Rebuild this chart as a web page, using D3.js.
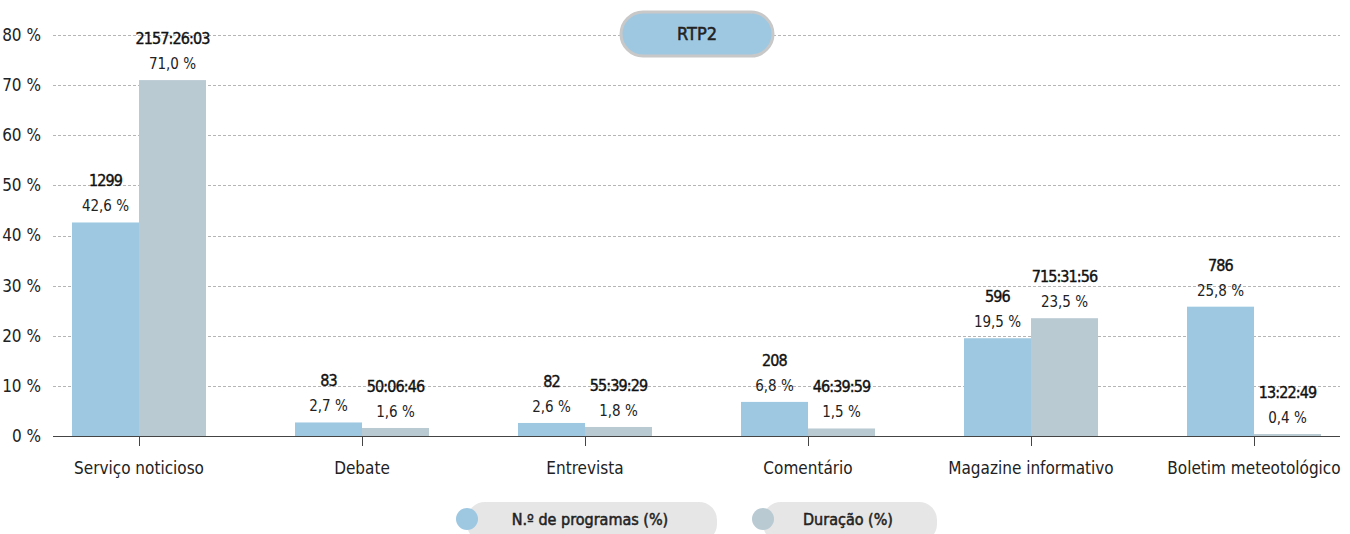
<!DOCTYPE html>
<html>
<head>
<meta charset="utf-8">
<script src="https://cdn.jsdelivr.net/npm/d3@7"></script>
<style>
	body { margin: 0; background: #fff; }
	svg { display: block; font-family: "DejaVu Sans Condensed", "Liberation Sans Narrow", "Roboto", sans-serif; }
</style>
</head>
<body>
<div id="box"></div>
<script>
const categories = ['Serviço noticioso', 'Debate', 'Entrevista', 'Comentário', 'Magazine informativo', 'Boletim meteotológico'];
const seriesNames = ['N.º de programas (%)', 'Duração (%)'];
const progPct = [42.6, 2.7, 2.6, 6.8, 19.5, 25.8];
const progCount = ['1299', '83', '82', '208', '596', '786'];
const durPct = [71.0, 1.6, 1.8, 1.5, 23.5, 0.4];
const durTime = ['2157:26:03', '50:06:46', '55:39:29', '46:39:59', '715:31:56', '13:22:49'];
const yTicks = [0, 10, 20, 30, 40, 50, 60, 70, 80];
const title = 'RTP2';

const colors = ['#9ec8e1', '#b9cad3'];

const width = 1350;
const height = 534;

const marginLeft = 53;
const plotRight = 1340;
const yTop = 35;
const yBottom = 436;

const fmt = v => v.toFixed(1).replace('.', ',') + ' %';

const x0 = d3.scaleBand(categories, [27.5, 1365.5]);
const x1 = d3.scaleBand([0, 1], [44.5, 178.5]);
const y = d3.scaleLinear([0, 80], [yBottom, yTop]);

const svg = d3.select('#box').append('svg')
	.attr('width', width)
	.attr('height', height)
	.attr('viewBox', [0, 0, width, height]);

// grid
svg.append('g')
	.selectAll('line')
	.data(yTicks.filter(t => t > 0))
	.join('line')
	.attr('x1', marginLeft)
	.attr('x2', plotRight)
	.attr('y1', d => Math.round(y(d)) + 0.5)
	.attr('y2', d => Math.round(y(d)) + 0.5)
	.attr('stroke', '#b5b5b5')
	.attr('stroke-dasharray', '3,2');

// y labels
svg.append('g')
	.selectAll('text')
	.data(yTicks)
	.join('text')
	.attr('x', 41)
	.attr('y', d => y(d))
	.attr('dy', '0.35em')
	.attr('text-anchor', 'end')
	.attr('font-size', 17)
	.attr('fill', '#222')
	.text(d => d + ' %');

// bars
const rows = categories.map((c, i) => ({
	cat: c,
	vals: [
		{ k: 0, pct: progPct[i], top: progCount[i] },
		{ k: 1, pct: durPct[i], top: durTime[i] },
	],
}));

const grp = svg.append('g')
	.selectAll('g')
	.data(rows)
	.join('g')
	.attr('transform', d => `translate(${x0(d.cat)},0)`);

grp.selectAll('rect')
	.data(d => d.vals)
	.join('rect')
	.attr('x', d => x1(d.k))
	.attr('width', x1.bandwidth())
	.attr('y', d => y(d.pct))
	.attr('height', d => y(0) - y(d.pct))
	.attr('fill', d => colors[d.k]);

grp.selectAll('text.pct')
	.data(d => d.vals)
	.join('text')
	.attr('class', 'pct')
	.attr('x', d => x1(d.k) + x1.bandwidth() / 2)
	.attr('y', d => y(d.pct) - 11)
	.attr('text-anchor', 'middle')
	.attr('font-size', 15)
	.attr('fill', '#222')
	.text(d => fmt(d.pct));

grp.selectAll('text.top')
	.data(d => d.vals)
	.join('text')
	.attr('class', 'top')
	.attr('x', d => x1(d.k) + x1.bandwidth() / 2)
	.attr('y', d => y(d.pct) - 36)
	.attr('text-anchor', 'middle')
	.attr('font-size', 16)
	.attr('letter-spacing', -0.9)
	.attr('fill', '#111')
	.attr('stroke', '#111')
	.attr('stroke-width', 0.4)
	.text(d => d.top);

// x axis
const axis = svg.append('g').attr('stroke', '#444');
axis.append('line')
	.attr('x1', marginLeft)
	.attr('x2', plotRight)
	.attr('y1', yBottom + 0.5)
	.attr('y2', yBottom + 0.5);
axis.selectAll('line.tick')
	.data(categories)
	.join('line')
	.attr('class', 'tick')
	.attr('x1', d => Math.round(x0(d) + x0.bandwidth() / 2) + 0.5)
	.attr('x2', d => Math.round(x0(d) + x0.bandwidth() / 2) + 0.5)
	.attr('y1', yBottom)
	.attr('y2', yBottom + 10);

svg.append('g')
	.selectAll('text')
	.data(categories)
	.join('text')
	.attr('x', d => x0(d) + x0.bandwidth() / 2)
	.attr('y', 474)
	.attr('text-anchor', 'middle')
	.attr('font-size', 17)
	.attr('fill', '#222')
	.text(d => d);

// title pill
const tg = svg.append('g');
tg.append('rect')
	.attr('x', 621)
	.attr('y', 12)
	.attr('width', 152)
	.attr('height', 44)
	.attr('rx', 22)
	.attr('fill', '#9ec8e1')
	.attr('stroke', '#c8c8c8')
	.attr('stroke-width', 3);
tg.append('text')
	.attr('x', 697)
	.attr('y', 34)
	.attr('dy', '0.35em')
	.attr('text-anchor', 'middle')
	.attr('font-size', 18)
	.attr('fill', '#222')
	.attr('stroke', '#222')
	.attr('stroke-width', 0.5)
	.text(title);

// legend
const legend = [
	{ name: seriesNames[0], cx: 467, w: 250, color: colors[0] },
	{ name: seriesNames[1], cx: 763, w: 174, color: colors[1] },
];
const lg = svg.append('g')
	.selectAll('g')
	.data(legend)
	.join('g');
lg.append('rect')
	.attr('x', d => d.cx)
	.attr('y', 502)
	.attr('width', d => d.w)
	.attr('height', 40)
	.attr('rx', 18)
	.attr('fill', '#e6e6e6');
lg.append('circle')
	.attr('cx', d => d.cx)
	.attr('cy', 519)
	.attr('r', 11)
	.attr('fill', d => d.color);
lg.append('text')
	.attr('x', d => d.cx + d.w / 2 - 2)
	.attr('y', 519)
	.attr('dy', '0.35em')
	.attr('text-anchor', 'middle')
	.attr('font-size', 16)
	.attr('fill', '#222')
	.attr('stroke', '#222')
	.attr('stroke-width', 0.5)
	.text(d => d.name);
</script>
</body>
</html>
